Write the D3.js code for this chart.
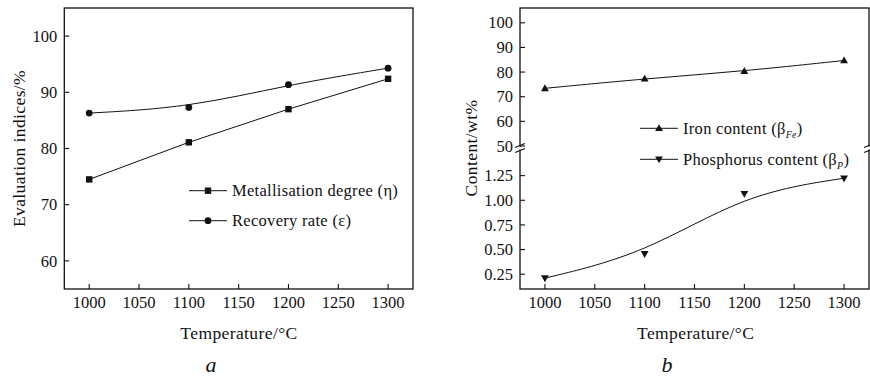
<!DOCTYPE html>
<html><head><meta charset="utf-8">
<script src="https://cdn.jsdelivr.net/npm/d3@7/dist/d3.min.js"></script>
<style>
body{margin:0;background:#fff;}
svg text{font-family:"Liberation Serif","Times New Roman",serif;fill:#111;}
</style></head>
<body><svg id="c" width="870" height="381"></svg>
<script>
const temps = [1000, 1100, 1200, 1300];
const xTicks = [1000, 1050, 1100, 1150, 1200, 1250, 1300];
const metallisation = [74.5, 81.1, 87.0, 92.4];
const recovery = [86.3, 87.3, 91.35, 94.3];
const ironContent = [73.4, 77.3, 80.4, 84.7];
const phosContent = [0.21, 0.456, 1.065, 1.224];
const aYTicks = [60, 70, 80, 90, 100];
const bUpperTicks = [50, 60, 70, 80, 90, 100];
const bLowerTicks = [0.25, 0.50, 0.75, 1.00, 1.25];

const svg = d3.select("#c");
const ink = "#111";
const tickLen = 5;
const fs = 16.5;      // tick labels
const fsT = 17.5;     // axis titles
const fsL = 16.5;     // legend

function frame(g, x0, x1, y0, y1){
  g.append("rect").attr("x",x0).attr("y",y0).attr("width",x1-x0).attr("height",y1-y0)
   .attr("fill","none").attr("stroke",ink).attr("stroke-width",1.3);
}
function xAxis(g, x, yBottom){
  xTicks.forEach(t=>{
    g.append("line").attr("x1",x(t)).attr("x2",x(t)).attr("y1",yBottom).attr("y2",yBottom-tickLen)
      .attr("stroke",ink).attr("stroke-width",1.1);
    g.append("text").attr("x",x(t)).attr("y",yBottom+19).attr("text-anchor","middle")
      .attr("font-size",fs).text(t);
  });
}
function yTicksDraw(g, y, ticks, xLeft, fmt){
  ticks.forEach(t=>{
    g.append("line").attr("x1",xLeft).attr("x2",xLeft+tickLen).attr("y1",y(t)).attr("y2",y(t))
      .attr("stroke",ink).attr("stroke-width",1.1);
    g.append("text").attr("x",xLeft-7).attr("y",y(t)).attr("dy","0.34em").attr("text-anchor","end")
      .attr("font-size",fs).text(fmt(t));
  });
}
function marker(g, type, cx, cy){
  if(type==="square") g.append("rect").attr("x",cx-3.2).attr("y",cy-3.2).attr("width",6.4).attr("height",6.4).attr("fill",ink);
  else if(type==="circle") g.append("circle").attr("cx",cx).attr("cy",cy).attr("r",3.4).attr("fill",ink);
  else if(type==="up") g.append("path").attr("d",`M${cx},${cy-4}L${cx+3.9},${cy+2.8}L${cx-3.9},${cy+2.8}Z`).attr("fill",ink);
  else g.append("path").attr("d",`M${cx},${cy+4}L${cx+3.9},${cy-2.8}L${cx-3.9},${cy-2.8}Z`).attr("fill",ink);
}
function series(g, x, y, vals, type, curve){
  const line = d3.line().x((d,i)=>x(temps[i])).y(d=>y(d)).curve(curve);
  g.append("path").attr("d",line(vals)).attr("fill","none").attr("stroke",ink).attr("stroke-width",1);
  vals.forEach((v,i)=>marker(g,type,x(temps[i]),y(v)));
}
function legendItem(g, x0, x1, y, type, textFn){
  g.append("line").attr("x1",x0).attr("x2",x1).attr("y1",y).attr("y2",y).attr("stroke",ink).attr("stroke-width",1);
  marker(g,type,(x0+x1)/2,y);
  const t = g.append("text").attr("x",x1+5).attr("y",y).attr("dy","0.34em")
    .attr("font-size",fsL).attr("letter-spacing",0.3);
  textFn(t);
}

// ---- Panel a ----
const ga = svg.append("g");
const xa = d3.scaleLinear().domain([975,1325]).range([64.3,413]);
const ya = d3.scaleLinear().domain([55,105]).range([289,8]);
frame(ga, 64.3, 413, 8, 289);
xAxis(ga, xa, 289);
yTicksDraw(ga, ya, aYTicks, 64.3, d=>d);
series(ga, xa, ya, metallisation, "square", d3.curveLinear);
series(ga, xa, ya, recovery, "circle", d3.curveBasis);
legendItem(ga, 189, 227, 190.7, "square", t=>t.text("Metallisation degree (η)"));
legendItem(ga, 189, 227, 220.7, "circle", t=>t.text("Recovery rate (ε)"));
ga.append("text").attr("x",239).attr("y",339).attr("text-anchor","middle").attr("font-size",fsT).attr("letter-spacing",0.4).text("Temperature/°C");
ga.append("text").attr("transform","translate(25,148.5) rotate(-90)").attr("text-anchor","middle").attr("font-size",fsT).attr("letter-spacing",0.4).text("Evaluation indices/%");
ga.append("text").attr("x",211).attr("y",372).attr("text-anchor","middle").attr("font-size",22).attr("font-style","italic").text("a");

// ---- Panel b ----
const gb = svg.append("g");
const bx0 = 520, bx1 = 869;
const xb = d3.scaleLinear().domain([975,1325]).range([bx0,bx1]);
const ybU = d3.scaleLinear().domain([50,106]).range([146,8]);
const ybL = d3.scaleLinear().domain([0.10,1.51]).range([289,150]);
frame(gb, bx0, bx1, 8, 289);
gb.append("rect").attr("x",bx0-2).attr("y",146.5).attr("width",4).attr("height",3).attr("fill","#fff");
gb.append("rect").attr("x",bx1-2).attr("y",146.5).attr("width",4).attr("height",3).attr("fill","#fff");
[bx0,bx1].forEach(bx=>{
  [145.5,150.5].forEach(yy=>{
    gb.append("line").attr("x1",bx-5).attr("x2",bx+5).attr("y1",yy+2).attr("y2",yy-2).attr("stroke",ink).attr("stroke-width",1.1);
  });
});
xAxis(gb, xb, 289);
yTicksDraw(gb, ybU, bUpperTicks, bx0, d=>d);
yTicksDraw(gb, ybL, bLowerTicks, bx0, d=>d3.format(".2f")(d));
series(gb, xb, ybU, ironContent, "up", d3.curveBasis);
series(gb, xb, ybL, phosContent, "down", d3.curveBasis);
legendItem(gb, 640, 678, 128.3, "up", t=>{
  t.append("tspan").text("Iron content (β");
  t.append("tspan").attr("font-size",10).attr("font-style","italic").attr("dy","4").text("Fe");
  t.append("tspan").attr("dy","-4").text(")");
});
legendItem(gb, 640, 678, 159.3, "down", t=>{
  t.append("tspan").text("Phosphorus content (β");
  t.append("tspan").attr("font-size",10).attr("font-style","italic").attr("dy","4").text("P");
  t.append("tspan").attr("dy","-4").text(")");
});
gb.append("text").attr("x",695.7).attr("y",339).attr("text-anchor","middle").attr("font-size",fsT).attr("letter-spacing",0.4).text("Temperature/°C");
gb.append("text").attr("transform","translate(477,148) rotate(-90)").attr("text-anchor","middle").attr("font-size",fsT).attr("letter-spacing",0.4).text("Content/wt%");
gb.append("text").attr("x",667).attr("y",372).attr("text-anchor","middle").attr("font-size",22).attr("font-style","italic").text("b");
</script></body></html>
